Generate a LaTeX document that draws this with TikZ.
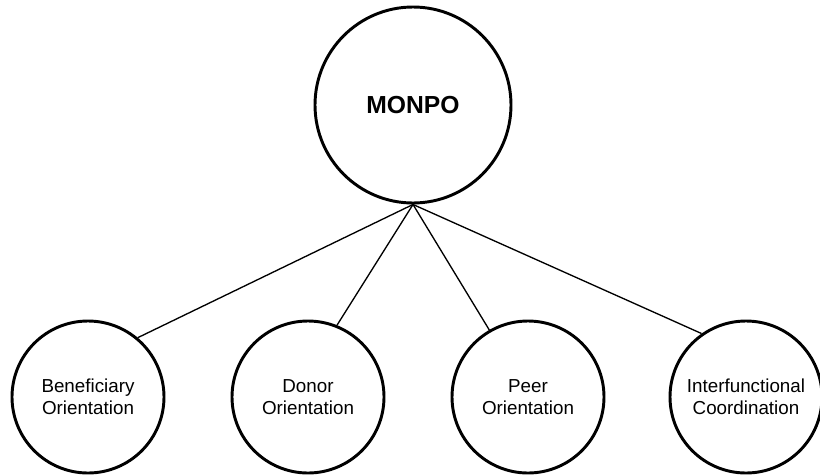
\documentclass[tikz,border=0pt]{standalone}
\usepackage{fontspec}
\setmainfont{Liberation Sans}
\begin{document}
\begin{tikzpicture}[x=0.75pt, y=-0.75pt,
  hub/.style={circle, draw, line width=2.2pt, minimum size=147pt, inner sep=0pt,
              font=\fontsize{18.5pt}{22pt}\selectfont\bfseries},
  facet/.style={circle, draw, line width=2.2pt, minimum size=114pt, inner sep=0pt,
                align=center, font=\fontsize{14.1pt}{16.2pt}\selectfont},
  link/.style={line width=1pt}]
  \useasboundingbox (0,0) rectangle (820,475);

  % central concept
  \node[hub] (monpo) at (413,105) {MONPO};

  % the four components
  \node[facet] (ben)   at (88,397)  {Beneficiary\\Orientation};
  \node[facet] (don)   at (308,397) {Donor\\Orientation};
  \node[facet] (peer)  at (528,397) {Peer\\Orientation};
  \node[facet] (inter) at (746,397) {Interfunctional\\Coordination};

  % connectors fanning out from the bottom of the hub
  \draw[link] (monpo.south) -- (ben.50);
  \draw[link] (monpo.south) -- (don.68);
  \draw[link] (monpo.south) -- (peer.120);
  \draw[link] (monpo.south) -- (inter.125);
\end{tikzpicture}
\end{document}
